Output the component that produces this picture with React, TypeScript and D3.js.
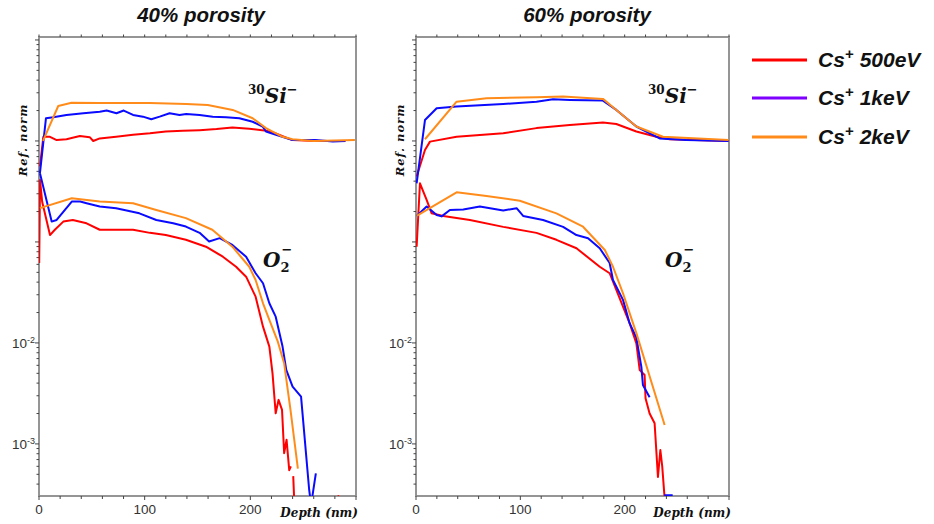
import React from "react";
import * as d3 from "d3";

type Pt = [number, number] | null;

const panelTitles = ["40% porosity", "60% porosity"];
const legendLabels = ["500eV", "1keV", "2keV"];
const lineColors = ["#ff0000", "#0a0aff", "#ff8c1a"];
const legendColors = ["#ff0000", "#7f00ff", "#ff8c1a"];
const xTickLabels = [0, 100, 200];
const xMinorTicks = d3.range(0, 301, 20);
const yLabelExps = [-2, -3];
const xDomain: [number, number] = [0, 300];
const yDomain: [number, number] = [3.05e-4, 10.7];

// ---------- 40% porosity ----------
const si40_500: Pt[] = [[0.9,0.56],[4.1,1.10],[10.4,1.10],[16.7,1.02],[26,1.04],[38.7,1.12],[48,1.09],[51.3,1.0],[57.5,1.06],[73,1.10],[89,1.15],[105,1.19],[120,1.24],[136,1.26],[152,1.28],[168,1.31],[183,1.36],[199,1.32],[215,1.26],[224,1.19],[230,1.12],[240,1.02],[262,1.0],[290,1.0]];
const si40_1k: Pt[] = [[0.9,0.48],[6.6,1.68],[13.5,1.72],[26,1.81],[42,1.88],[57.5,1.95],[64,2.0],[73.3,1.88],[80.2,2.0],[89,1.81],[98.4,1.74],[106.3,1.64],[114.2,1.74],[123.6,1.88],[133,1.81],[139.3,1.85],[152,1.81],[164.4,1.74],[177,1.72],[189.6,1.68],[202.2,1.55],[211.6,1.39],[214.8,1.24],[224.2,1.15],[240,1.02],[262,1.02],[278,0.985],[290,1.0]];
const si40_2k: Pt[] = [[3.8,1.0],[18.2,2.22],[30.8,2.39],[57.5,2.37],[104.7,2.37],[139.3,2.32],[159.7,2.27],[183.3,2.03],[202.2,1.68],[214.8,1.34],[230.5,1.10],[239.9,1.04],[260,1.0],[299,1.02]];
const o40_500: Pt[] = [[0.2,0.062],[1.0,0.41],[3,0.25],[10.4,0.117],[15,0.132],[23,0.159],[32,0.165],[45,0.153],[57.5,0.132],[89,0.132],[105,0.123],[120,0.117],[139,0.105],[158,0.0897],[174,0.0714],[186.5,0.0568],[196,0.0453],[205,0.0287],[212,0.0145],[218,0.0092],[221,0.005],[224,0.00201],[226.7,0.00273],[230,0.00217],[232,0.00081],[234.3,0.0011],[236.8,0.00055],[238.4,0.0006],null,[240.6,0.00048],[241.5,0.00028],null,[283,0.00031],[284,0.00029]];
const o40_1k: Pt[] = [[0.9,0.479],[12,0.159],[16.7,0.165],[31,0.251],[39,0.251],[45,0.242],[57.5,0.224],[73,0.216],[95,0.192],[111,0.165],[127,0.153],[139,0.142],[152,0.123],[161,0.101],[171,0.109],[183,0.0933],[196,0.0714],[205,0.049],[212,0.039],[218,0.0247],[224,0.0182],[230.5,0.0092],[234,0.0054],[240,0.0037],[248,0.00294],[255.7,0.00035],[257.5,0.00025],[262,0.00051]];
const o40_2k: Pt[] = [[0.9,0.216],[31,0.271],[57.5,0.251],[89,0.242],[111,0.207],[139,0.172],[164,0.132],[183,0.0897],[199,0.0568],[205,0.042],[212,0.0247],[218,0.0169],[226,0.0103],[232,0.0063],[235,0.0037],[238,0.00217],[245,0.00057]];

// ---------- 60% porosity ----------
const si60_500: Pt[] = [[0.6,0.444],[8.6,0.815],[13.4,0.985],[38.9,1.10],[83.6,1.19],[115.5,1.34],[147.4,1.44],[179.2,1.52],[192,1.47],[211.2,1.24],[230.3,1.10],[243,1.04],[299.5,1.0]];
const si60_1k: Pt[] = [[0.6,0.381],[8.6,1.61],[19.8,2.11],[38.9,2.19],[83.6,2.32],[115.5,2.45],[131.4,2.59],[147.4,2.55],[179.2,2.51],[192,2.03],[211.2,1.39],[233.5,1.06],[259,1.02],[299.5,1.0]];
const si60_2k: Pt[] = [[8.6,1.04],[38.9,2.45],[67.6,2.65],[115.5,2.71],[141,2.75],[179.2,2.61],[192,2.03],[211.2,1.39],[236.7,1.10],[299.5,1.02]];
const o60_500: Pt[] = [[0.6,0.0897],[3.8,0.381],[10.2,0.261],[15,0.192],[26.1,0.181],[51.7,0.165],[83.6,0.141],[115.5,0.123],[134.6,0.105],[153.8,0.0866],[176.1,0.0568],[185.6,0.049],[192,0.0335],[204.8,0.0156],[211.2,0.0099],[214.4,0.0054],[219.1,0.00482],[220,0.00283],[223.9,0.002],[228.7,0.0016],[231.9,0.00047],[234.2,0.00087],[236,0.0006],[238.3,0.00029]];
const o60_1k: Pt[] = [[0.6,0.181],[10.2,0.224],[19.8,0.185],[24.6,0.179],[32.5,0.207],[45.3,0.21],[61.2,0.224],[83.6,0.205],[96.4,0.216],[102.7,0.181],[121.8,0.165],[141,0.141],[153.8,0.117],[164.9,0.109],[176.1,0.0866],[185.6,0.0618],[188.8,0.042],[198.4,0.0267],[204.8,0.0156],[211.2,0.0113],[216,0.0058],[217.5,0.00384],[223.9,0.0029],null,[238,0.00031],[246,0.00031]];
const o60_2k: Pt[] = [[0.6,0.181],[38.9,0.31],[67.6,0.285],[99.5,0.256],[134.6,0.192],[160.1,0.1415],[181,0.0833],[188.8,0.0568],[198.4,0.031],[211.2,0.0125],[238.3,0.00154]];

const panels = [
  { title: panelTitles[0], x0: 39, x1: 356, titleX: 201, series: [[si40_500, o40_500], [si40_1k, o40_1k], [si40_2k, o40_2k]], siX: 248, oX: 263 },
  { title: panelTitles[1], x0: 416, x1: 729, titleX: 587, series: [[si60_500, o60_500], [si60_1k, o60_1k], [si60_2k, o60_2k]], siX: 648, oX: 665 },
];

const TOP = 37;
const BOTTOM = 496;
const axisColor = "#8a8a8a";
const tickColor = "#444";
const sans = "'Liberation Sans', Arial, sans-serif";
const serif = "'DejaVu Serif', 'Liberation Serif', serif";

function Panel({ p, idx }: { p: typeof panels[number]; idx: number }) {
  const x = d3.scaleLinear().domain(xDomain).range([p.x0, p.x1]);
  const y = d3.scaleLog().domain(yDomain).range([BOTTOM, TOP]);
  const line = d3
    .line<Pt>()
    .defined((d) => d !== null)
    .x((d) => x((d as [number, number])[0]))
    .y((d) => y((d as [number, number])[1]));

  const yTicks: { v: number; major: boolean }[] = [];
  for (let e = -4; e <= 1; e++) {
    for (let m = 1; m <= 9; m++) {
      const v = m * Math.pow(10, e);
      if (v >= yDomain[0] && v <= yDomain[1]) yTicks.push({ v, major: m === 1 });
    }
  }
  const clipId = `clip${idx}`;
  return (
    <g>
      <defs>
        <clipPath id={clipId}>
          <rect x={p.x0} y={TOP} width={p.x1 - p.x0} height={BOTTOM - TOP} />
        </clipPath>
      </defs>
      <text x={p.titleX} y={22} textAnchor="middle" fontFamily={sans} fontWeight="bold" fontStyle="italic" fontSize={20.5} fill="#111">
        {p.title}
      </text>
      <rect x={p.x0} y={TOP} width={p.x1 - p.x0} height={BOTTOM - TOP} fill="none" stroke={axisColor} strokeWidth={1.8} />
      {yTicks.map((t, i) => (
        <line key={"yt" + i} x1={p.x0 - (t.major ? 4 : 2.5)} x2={p.x0} y1={y(t.v)} y2={y(t.v)} stroke={tickColor} strokeWidth={1} />
      ))}
      {xMinorTicks.map((t) => (
        <g key={"xt" + t}>
          <line x1={x(t)} x2={x(t)} y1={TOP - 2.5} y2={TOP} stroke={tickColor} strokeWidth={1} />
          <line x1={x(t)} x2={x(t)} y1={BOTTOM} y2={BOTTOM + (t % 100 === 0 ? 4 : 3)} stroke={tickColor} strokeWidth={1} />
        </g>
      ))}
      {xTickLabels.map((t) => (
        <text key={"xl" + t} x={x(t)} y={514} textAnchor="middle" fontFamily={sans} fontSize={13.5} fill="#333">
          {t}
        </text>
      ))}
      {yLabelExps.map((e) => (
        <text key={"yl" + e} x={p.x0 - 4} y={y(Math.pow(10, e)) + 5} textAnchor="end" fontFamily={sans} fontSize={13.5} fill="#333">
          <tspan>10</tspan>
          <tspan dy={-5} fontSize={9}>{e}</tspan>
        </text>
      ))}
      <text transform={`translate(${p.x0 - 12},140) rotate(-90)`} textAnchor="middle" fontFamily={serif} fontWeight="bold" fontStyle="italic" fontSize={11.5} letterSpacing={1} fill="#111">
        Ref. norm
      </text>
      <text x={p.x1 + 2} y={517} textAnchor="end" fontFamily={serif} fontWeight="bold" fontStyle="italic" fontSize={12} fill="#111">
        Depth (nm)
      </text>
      <g clipPath={`url(#${clipId})`}>
        {p.series.map((pair, si) =>
          pair.map((data, k) => (
            <path key={`s${si}-${k}`} d={line(data) || ""} fill="none" stroke={lineColors[si]} strokeWidth={2} strokeLinejoin="round" />
          ))
        )}
      </g>
      <text x={p.siX} y={103} fontFamily={serif} fontWeight="bold" fill="#111">
        <tspan fontSize={12} dy={-9}>30</tspan>
        <tspan fontSize={20} fontStyle="italic" dy={9}>Si</tspan>
        <tspan fontSize={13} dy={-9}>−</tspan>
      </text>
      <text x={p.oX} y={267} fontFamily={serif} fontWeight="bold" fill="#111">
        <tspan fontSize={20} fontStyle="italic">O</tspan>
        <tspan fontSize={13} dy={5}>2</tspan>
        <tspan fontSize={13} dx={-8} dy={-18}>−</tspan>
      </text>
    </g>
  );
}

export default function App() {
  const legendY = [60, 98, 137];
  return (
    <svg width={934} height={524} style={{ position: "absolute", left: 0, top: 0, background: "#fff" }}>
      <rect x={0} y={0} width={934} height={524} fill="#fff" />
      {panels.map((p, i) => (
        <Panel key={i} p={p} idx={i} />
      ))}
      {legendLabels.map((lab, i) => (
        <g key={lab}>
          <line x1={752} x2={807} y1={legendY[i]} y2={legendY[i]} stroke={legendColors[i]} strokeWidth={3} />
          <text x={818} y={legendY[i] + 7} fontFamily={sans} fontWeight="bold" fontStyle="italic" fontSize={21} fill="#111">
            <tspan>Cs</tspan>
            <tspan fontSize={15} dy={-8}>+</tspan>
            <tspan dx={6} dy={8}>{lab}</tspan>
          </text>
        </g>
      ))}
    </svg>
  );
}
